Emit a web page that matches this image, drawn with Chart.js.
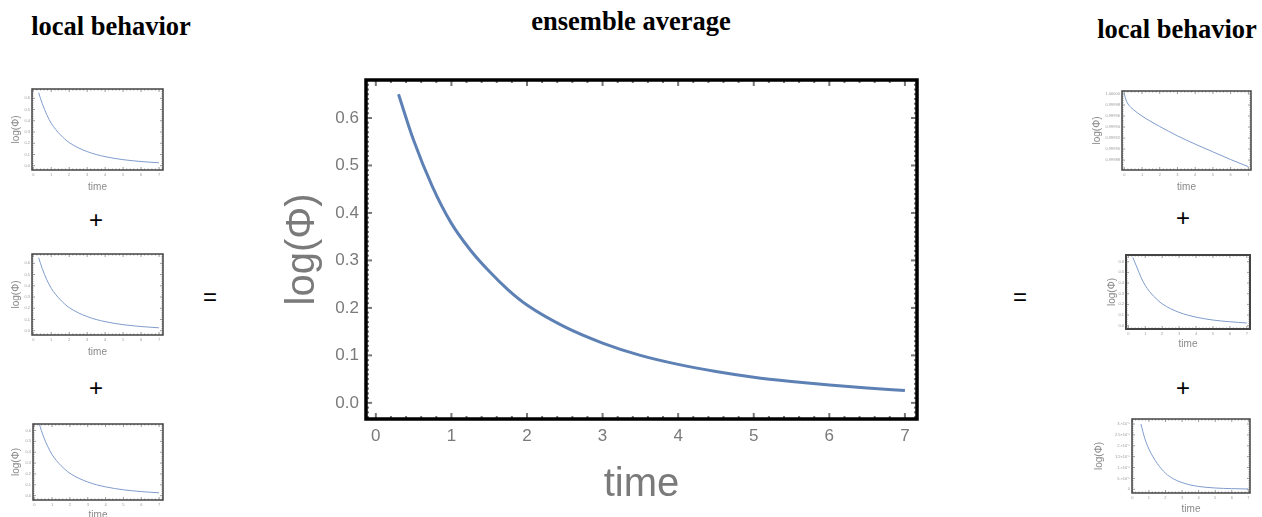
<!DOCTYPE html>
<html>
<head>
<meta charset="utf-8">
<script src="https://cdn.jsdelivr.net/npm/chart.js@4.4.1/dist/chart.umd.min.js"></script>
<style>
  html, body { margin: 0; padding: 0; background: #fff; }
  body { position: relative; width: 1262px; height: 517px; overflow: hidden; }
  canvas { position: absolute; }
  .head { position: absolute; font-family: 'Liberation Serif', 'Times New Roman', serif; font-weight: bold;
          font-size: 26.5px; line-height: 26.5px; color: #000; white-space: nowrap; transform: translateX(-50%); }
  .op { position: absolute; font-family: 'Liberation Sans', Arial, sans-serif; font-size: 24px; line-height: 24px;
        color: #000; transform: translate(-50%, -50%); }
</style>
</head>
<body>
<div class="head" style="left:111px; top:13px">local behavior</div>
<div class="head" style="left:631px; top:8px">ensemble average</div>
<div class="head" style="left:1177px; top:16px">local behavior</div>

<div class="op" style="left:96px; top:220px">+</div>
<div class="op" style="left:96px; top:388px">+</div>
<div class="op" style="left:210px; top:297px">=</div>
<div class="op" style="left:1020px; top:297px">=</div>
<div class="op" style="left:1183px; top:218px">+</div>
<div class="op" style="left:1183px; top:388px">+</div>

<script>
// ---- data ----
// ensemble average of log(Φ) over time
const avgTime   = [0.3, 0.5, 0.75, 1.0, 1.25, 1.5, 1.75, 2.0, 2.5, 3.0, 3.5, 4.0, 4.5, 5.0, 5.5, 6.0, 6.5, 7.0];
const avgLogPhi = [0.650, 0.553, 0.455, 0.378, 0.322, 0.277, 0.238, 0.206, 0.160, 0.126, 0.100, 0.081, 0.066, 0.054, 0.045, 0.0375, 0.0315, 0.026];

// local behaviour, left column (three panels with the same decay)
const leftTime   = [0.3, 0.5, 0.75, 1.0, 1.25, 1.5, 1.75, 2.0, 2.5, 3.0, 3.5, 4.0, 4.5, 5.0, 5.5, 6.0, 6.5, 7.0];
const leftLogPhi = [0.650, 0.553, 0.455, 0.378, 0.322, 0.277, 0.238, 0.206, 0.160, 0.126, 0.100, 0.081, 0.066, 0.054, 0.045, 0.0375, 0.0315, 0.026];

// local behaviour, right column
const r1Time   = [0, 0.1, 0.25, 0.5, 1, 1.5, 2, 3, 4, 5, 6, 7];
const r1LogPhi = [1.000000, 0.999989, 0.999980, 0.999972, 0.999960, 0.999950, 0.999941, 0.999924, 0.999909, 0.999895, 0.999881, 0.999868];

const r2Time   = [0.26, 0.5, 0.75, 1.0, 1.25, 1.5, 1.75, 2.0, 2.5, 3.0, 3.5, 4.0, 4.5, 5.0, 5.5, 6.0, 6.5, 7.0];
const r2LogPhi = [0.640, 0.550, 0.453, 0.377, 0.321, 0.276, 0.237, 0.205, 0.159, 0.125, 0.099, 0.080, 0.065, 0.053, 0.044, 0.037, 0.031, 0.025];

const r3Time   = [0.52, 0.75, 1.0, 1.5, 2.0, 2.5, 3.0, 3.5, 4.0, 5.0, 6.0, 7.0];
const r3LogPhi = [3.0e-8, 2.34e-8, 1.85e-8, 1.19e-8, 7.4e-9, 4.7e-9, 3.1e-9, 2.0e-9, 1.3e-9, 6e-10, 3e-10, 1.5e-10];

// tick values and labels
const timeTicks       = [0, 1, 2, 3, 4, 5, 6, 7];
const timeTickLabels  = ['0', '1', '2', '3', '4', '5', '6', '7'];
const logPhiTicks      = [0, 0.1, 0.2, 0.3, 0.4, 0.5, 0.6];
const logPhiTickLabels = ['0.0', '0.1', '0.2', '0.3', '0.4', '0.5', '0.6'];
const r1Ticks      = [0.99988, 0.99990, 0.99992, 0.99994, 0.99996, 0.99998, 1.00000];
const r1TickLabels = ['0.99988', '0.99990', '0.99992', '0.99994', '0.99996', '0.99998', '1.00000'];
const r3Ticks      = [0, 5e-9, 1e-8, 1.5e-8, 2e-8, 2.5e-8, 3e-8];
const r3TickLabels = ['0', '5.×10⁻⁹', '1.×10⁻⁸', '1.5×10⁻⁸', '2.×10⁻⁸', '2.5×10⁻⁸', '3.×10⁻⁸'];

// ---- frame with inward major/minor ticks on all four sides ----
const framePlugin = {
  id: 'mmaFrame',
  afterDatasetsDraw(chart, args, o) {
    const { ctx, chartArea: a, scales: { x, y } } = chart;
    ctx.save();
    ctx.strokeStyle = o.tickColor;
    ctx.lineWidth = o.tickWidth;
    ctx.lineCap = 'butt';
    const seg = (x0, y0, x1, y1) => { ctx.beginPath(); ctx.moveTo(x0, y0); ctx.lineTo(x1, y1); ctx.stroke(); };
    const walk = (scale, minor, major, fn) => {
      const k0 = Math.ceil(scale.min / minor - 1e-6), k1 = Math.floor(scale.max / minor + 1e-6);
      for (let k = k0; k <= k1; k++) {
        const v = k * minor, r = v / major;
        fn(scale.getPixelForValue(v), Math.abs(r - Math.round(r)) < 1e-6);
      }
    };
    walk(x, o.minorX, o.majorX, (px, big) => {
      const L = big ? o.majorLen : o.minorLen;
      seg(px, a.bottom, px, a.bottom - L);
      seg(px, a.top, px, a.top + L);
    });
    walk(y, o.minorY, o.majorY, (py, big) => {
      const L = big ? o.majorLen : o.minorLen;
      seg(a.left, py, a.left + L, py);
      seg(a.right, py, a.right - L, py);
    });
    ctx.strokeStyle = o.color;
    ctx.lineWidth = o.width;
    ctx.strokeRect(a.left, a.top, a.right - a.left, a.bottom - a.top);
    ctx.restore();
  }
};

const SANS = "'Liberation Sans', Arial, sans-serif";

function panel(p) {
  const c = document.createElement('canvas');
  c.width = p.w; c.height = p.h;
  c.style.left = p.x + 'px'; c.style.top = p.y + 'px';
  document.body.appendChild(c);
  const [L, T, R, B] = p.area;
  const yAxisW = L - p.x, xAxisH = p.y + p.h - B;
  const lh = p.titleSize * 1.2;
  new Chart(c, {
    type: 'line',
    data: {
      datasets: [{
        data: p.t.map((t, i) => ({ x: t, y: p.v[i] })),
        borderColor: p.color, borderWidth: p.lw,
        pointRadius: 0, fill: false, cubicInterpolationMode: 'monotone'
      }]
    },
    options: {
      responsive: false, animation: false, devicePixelRatio: 1,
      layout: { padding: { top: T - p.y, right: p.x + p.w - R, left: 0, bottom: 0 } },
      plugins: { legend: { display: false }, tooltip: { enabled: false }, mmaFrame: p.frame },
      scales: {
        x: {
          type: 'linear', min: p.xr[0], max: p.xr[1],
          afterFit: s => { s.height = xAxisH; },
          afterBuildTicks: s => { s.ticks = p.xt.map(v => ({ value: v })); },
          grid: { display: false, drawTicks: false }, border: { display: false },
          ticks: { autoSkip: false, maxRotation: 0, padding: p.tickPad, color: p.tickColor,
                   font: { family: SANS, size: p.tickSize }, callback: (v, i) => p.xl[i] },
          title: { display: true, text: 'time', color: p.titleColor,
                   font: { family: SANS, size: p.titleSize },
                   padding: { top: 0, bottom: (p.y + p.h - p.xTitleY) - lh / 2 } }
        },
        y: {
          type: 'linear', min: p.yr[0], max: p.yr[1],
          afterFit: s => { s.width = yAxisW; },
          afterBuildTicks: s => { s.ticks = p.yt.map(v => ({ value: v })); },
          grid: { display: false, drawTicks: false }, border: { display: false },
          ticks: { autoSkip: false, padding: p.tickPad, color: p.tickColor,
                   font: { family: SANS, size: p.tickSize }, callback: (v, i) => p.yl[i] },
          title: { display: true, text: 'log(Φ)', color: p.titleColor,
                   font: { family: SANS, size: p.titleSize },
                   padding: { top: (p.yTitleX - p.x) - lh / 2, bottom: 0 } }
        }
      }
    },
    plugins: [framePlugin]
  });
}

const mainFrame  = { color: '#000', width: 3.5, tickColor: '#777', tickWidth: 2, majorLen: 6, minorLen: 3,
                     majorX: 1, minorX: 0.2, majorY: 0.1, minorY: 0.01 };
const smallFrame = (my, ny) => ({ color: '#444', width: 1.5, tickColor: '#999', tickWidth: 1, majorLen: 3, minorLen: 1.5,
                     majorX: 1, minorX: 0.2, majorY: my, minorY: ny });
const small = { lw: 1, color: '#7f9ccc', tickSize: 4, tickPad: 2, tickColor: '#999', titleSize: 10, titleColor: '#8a8a8a' };

// ensemble average
panel({ x: 262, y: 60, w: 670, h: 457, area: [366, 80, 917, 419], yTitleX: 303, xTitleY: 485,
        t: avgTime, v: avgLogPhi, xr: [-0.13, 7.16], yr: [-0.034, 0.68],
        xt: timeTicks, xl: timeTickLabels, yt: logPhiTicks, yl: logPhiTickLabels,
        lw: 3, color: '#5E81B5', tickSize: 17, tickPad: 7, tickColor: '#7a7a7a', titleSize: 40, titleColor: '#7a7a7a',
        frame: mainFrame });

// left column
[[80, 117, [32, 89, 163, 170], 187, [-0.038, 0.683]],
 [245, 117, [32, 254, 163, 335], 352, [-0.038, 0.683]],
 [415, 112, [33, 424, 163, 500], 515, [-0.04, 0.66]]].forEach(([y, h, area, xTitleY, yr]) => {
  panel(Object.assign({}, small, { x: 0, y, w: 172, h, area, yTitleX: 16, xTitleY,
        t: leftTime, v: leftLogPhi, xr: [-0.07, 7.22], yr,
        xt: timeTicks, xl: timeTickLabels, yt: logPhiTicks, yl: logPhiTickLabels,
        frame: smallFrame(0.1, 0.02) }));
});

// right column
panel(Object.assign({}, small, { x: 1085, y: 80, w: 177, h: 117, area: [1122, 91, 1251, 170], yTitleX: 1097, xTitleY: 187,
      t: r1Time, v: r1LogPhi, xr: [-0.13, 7.15], yr: [0.999862, 1.0000055],
      xt: timeTicks, xl: timeTickLabels, yt: r1Ticks, yl: r1TickLabels,
      frame: smallFrame(0.00002, 0.000004) }));
panel(Object.assign({}, small, { x: 1100, y: 247, w: 162, h: 107, area: [1126, 255, 1250, 329], yTitleX: 1112, xTitleY: 344,
      t: r2Time, v: r2LogPhi, xr: [-0.14, 7.19], yr: [-0.031, 0.663],
      xt: timeTicks, xl: timeTickLabels, yt: logPhiTicks, yl: logPhiTickLabels,
      frame: Object.assign(smallFrame(0.1, 0.02), { width: 2 }) }));
panel(Object.assign({}, small, { x: 1085, y: 410, w: 177, h: 111, area: [1132, 419, 1250, 493], yTitleX: 1099, xTitleY: 509,
      t: r3Time, v: r3LogPhi, xr: [-0.02, 7.1], yr: [-1.7e-9, 3.23e-8],
      xt: timeTicks, xl: timeTickLabels, yt: r3Ticks, yl: r3TickLabels,
      frame: smallFrame(5e-9, 1e-9) }));
</script>
</body>
</html>
